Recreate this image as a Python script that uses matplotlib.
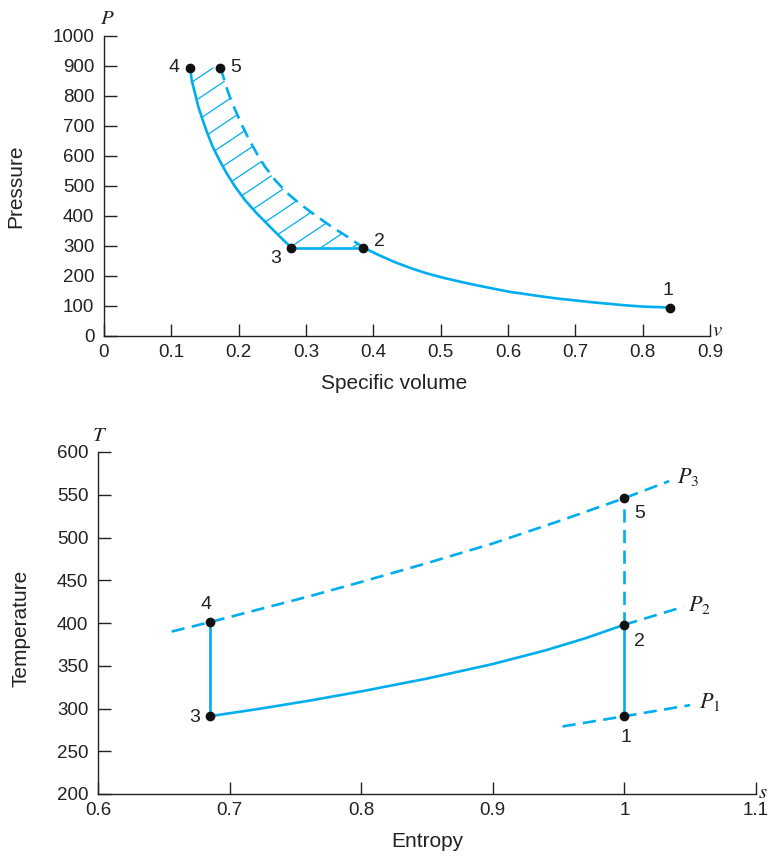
import matplotlib
matplotlib.use("Agg")
import matplotlib.pyplot as plt
import numpy as np

plt.rcParams['font.family'] = ['Liberation Sans', 'DejaVu Sans']
plt.rcParams['mathtext.fontset'] = 'stix'

BLUE = '#00AEEF'
DARK = '#222222'

# ---------------- P-v diagram data ----------------
pv_points_v = [0.84, 0.385, 0.278, 0.128, 0.173]
pv_points_p = [95, 295, 295, 895, 895]
pv_point_labels = ['1', '2', '3', '4', '5']

# curve 2 -> 1 (solid)
c21_v = [0.385, 0.405, 0.43, 0.4545, 0.479, 0.504, 0.529, 0.5535, 0.578, 0.603,
         0.628, 0.6525, 0.677, 0.702, 0.727, 0.7515, 0.776, 0.801, 0.84]
c21_p = [295, 273, 248, 227, 209, 194, 181, 169, 158, 147,
         139, 131, 124, 118, 112, 107, 102, 98, 95]
# curve 3 -> 4 (solid)
c34_v = [0.278, 0.2614, 0.2466, 0.2268, 0.2094, 0.1946, 0.1822, 0.1713, 0.1614,
         0.1535, 0.1466, 0.1401, 0.1352, 0.1302, 0.128]
c34_p = [295, 331, 364, 409, 453, 498, 542, 587, 631,
         676, 720, 764, 809, 853, 895]
# curve 5 -> 2 (dashed)
c52_v = [0.173, 0.1772, 0.1832, 0.1896, 0.1971, 0.206, 0.2158, 0.2268, 0.2391,
         0.254, 0.2713, 0.2911, 0.3134, 0.3381, 0.3629, 0.385]
c52_p = [895, 864, 820, 781, 742, 698, 653, 609, 564,
         520, 478, 440, 403, 364, 329, 295]

pv_xticks = [0, 0.1, 0.2, 0.3, 0.4, 0.5, 0.6, 0.7, 0.8, 0.9]
pv_xticklabels = ['0', '0.1', '0.2', '0.3', '0.4', '0.5', '0.6', '0.7', '0.8', '0.9']
pv_yticks = [0, 100, 200, 300, 400, 500, 600, 700, 800, 900, 1000]

# ---------------- T-s diagram data ----------------
ts_points_s = [1.0, 1.0, 0.685, 0.685, 1.0]
ts_points_t = [291, 398, 291, 401, 546]
ts_point_labels = ['1', '2', '3', '4', '5']

# isobar P3 (dashed)
p3_s = [0.656, 0.685, 0.72, 0.76, 0.80, 0.85, 0.90, 0.95, 1.0, 1.034]
p3_t = [390, 401, 415, 431, 448, 470, 493, 519, 546, 566]
# isobar P2 (solid from 3 to 2, dashed beyond 2)
p2_solid_s = [0.685, 0.72, 0.76, 0.80, 0.85, 0.90, 0.94, 0.97, 1.0]
p2_solid_t = [291, 299, 309, 320, 335, 352, 368, 382, 398]
p2_dash_s = [1.0, 1.045]
p2_dash_t = [398, 419]
# isobar P1 (dashed)
p1_s = [0.953, 1.0, 1.05]
p1_t = [279, 291, 304]

ts_xticks = [0.6, 0.7, 0.8, 0.9, 1.0, 1.1]
ts_xticklabels = ['0.6', '0.7', '0.8', '0.9', '1', '1.1']
ts_yticks = [200, 250, 300, 350, 400, 450, 500, 550, 600]

W, H = 770, 856
fig = plt.figure(figsize=(W / 100, H / 100), dpi=100)
ax1 = fig.add_axes([104 / W, 1 - 336 / H, (710 - 104) / W, 300 / H])
ax2 = fig.add_axes([98 / W, 1 - 794 / H, (756 - 98) / W, (794 - 452) / H])

LW = 1.9
DASH = (5, 2.8)
FS = 13.5
LFS = 15
PFS = 14


def style_axes(ax):
    for sp in ['top', 'right']:
        ax.spines[sp].set_visible(False)
    for sp in ['left', 'bottom']:
        ax.spines[sp].set_color(DARK)
        ax.spines[sp].set_linewidth(1.0)
    ax.tick_params(direction='in', length=9, width=1, colors=DARK,
                   labelsize=FS, labelcolor=DARK)
    ax.tick_params(axis='y', pad=7)
    ax.tick_params(axis='x', pad=6)


# ---- top ----
style_axes(ax1)
ax1.set_xlim(0, 0.9)
ax1.set_ylim(0, 1000)
ax1.set_xticks(pv_xticks)
ax1.set_xticklabels(pv_xticklabels)
ax1.set_yticks(pv_yticks)

# hatched work area between the two curves
hx = c34_v + c52_v
hy = c34_p + c52_p
region = ax1.fill(hx, hy, facecolor='none', edgecolor='none', linewidth=0)[0]
k = 0.67 * 606 / 300   # hatch slope in axes units
for c in np.arange(-2.5, 1.2, 0.07):
    ln, = ax1.plot([0, 1], [c, c + k], transform=ax1.transAxes, color=BLUE, lw=0.9)
    ln.set_clip_path(region)

ax1.plot(c21_v, c21_p, color=BLUE, lw=LW, solid_capstyle='butt')
ax1.plot(c34_v, c34_p, color=BLUE, lw=LW, solid_capstyle='butt')
ax1.plot(c52_v, c52_p, color=BLUE, lw=LW, dashes=DASH, dash_capstyle='butt')
ax1.plot([pv_points_v[2], pv_points_v[1]], [pv_points_p[2], pv_points_p[1]],
         color=BLUE, lw=LW)
ax1.plot(pv_points_v, pv_points_p, 'o', color='#111111', ms=6, zorder=5, clip_on=False)

pv_offsets = {'1': (-1, 12), '2': (12, 4), '3': (-11, -8), '4': (-12, 0), '5': (11, 0)}
for v, p, lab in zip(pv_points_v, pv_points_p, pv_point_labels):
    ax1.annotate(lab, (v, p), xytext=pv_offsets[lab], textcoords='offset points',
                 ha='center', va='center', fontsize=PFS, color=DARK)

ax1.set_ylabel('Pressure', fontsize=LFS, color=DARK)
ax1.yaxis.set_label_coords(-0.13, 0.5)
ax1.set_xlabel('Specific volume', fontsize=LFS, color=DARK)
ax1.xaxis.set_label_coords(0.4785, -0.128)
ax1.text(0.005, 1.06, '$P$', transform=ax1.transAxes, fontsize=LFS,
         ha='center', va='center', color=DARK)
ax1.text(1.012, 0.02, '$v$', transform=ax1.transAxes, fontsize=LFS,
         ha='center', va='center', color=DARK)

# ---- bottom ----
style_axes(ax2)
ax2.set_xlim(0.6, 1.1)
ax2.set_ylim(200, 600)
ax2.set_xticks(ts_xticks)
ax2.set_xticklabels(ts_xticklabels)
ax2.set_yticks(ts_yticks)

ax2.plot(p3_s, p3_t, color=BLUE, lw=LW, dashes=DASH, dash_capstyle='butt')
ax2.plot(p2_solid_s, p2_solid_t, color=BLUE, lw=LW)
ax2.plot(p2_dash_s, p2_dash_t, color=BLUE, lw=LW, dashes=DASH, dash_capstyle='butt')
ax2.plot(p1_s, p1_t, color=BLUE, lw=LW, dashes=DASH, dash_capstyle='butt')
# vertical processes
ax2.plot([ts_points_s[2], ts_points_s[3]], [ts_points_t[2], ts_points_t[3]], color=BLUE, lw=LW)
ax2.plot([ts_points_s[0], ts_points_s[1]], [ts_points_t[0], ts_points_t[1]], color=BLUE, lw=LW)
ax2.plot([ts_points_s[1], ts_points_s[4]], [ts_points_t[1], ts_points_t[4]], color=BLUE, lw=LW,
         dashes=DASH, dash_capstyle='butt')
ax2.plot(ts_points_s, ts_points_t, 'o', color='#111111', ms=6, zorder=5)

ts_offsets = {'1': (1, -15), '2': (11, -12), '3': (-11, -1), '4': (-3, 13), '5': (11, -11)}
for s, t, lab in zip(ts_points_s, ts_points_t, ts_point_labels):
    ax2.annotate(lab, (s, t), xytext=ts_offsets[lab], textcoords='offset points',
                 ha='center', va='center', fontsize=PFS, color=DARK)

ax2.annotate('$P_3$', (p3_s[-1], p3_t[-1]), xytext=(6, 3), textcoords='offset points',
             ha='left', va='center', fontsize=LFS + 1, color=DARK)
ax2.annotate('$P_2$', (p2_dash_s[-1], p2_dash_t[-1]), xytext=(3, 1), textcoords='offset points',
             ha='left', va='center', fontsize=LFS + 1, color=DARK)
ax2.annotate('$P_1$', (p1_s[-1], p1_t[-1]), xytext=(6, 2), textcoords='offset points',
             ha='left', va='center', fontsize=LFS + 1, color=DARK)

ax2.set_ylabel('Temperature', fontsize=LFS, color=DARK)
ax2.yaxis.set_label_coords(-0.103, 0.485)
ax2.set_xlabel('Entropy', fontsize=LFS, color=DARK)
ax2.xaxis.set_label_coords(0.5, -0.112)
ax2.text(0.003, 1.047, '$T$', transform=ax2.transAxes, fontsize=LFS,
         ha='center', va='center', color=DARK)
ax2.text(1.01, 0.005, '$s$', transform=ax2.transAxes, fontsize=LFS,
         ha='center', va='center', color=DARK)

fig.savefig('out.png', dpi=100)
